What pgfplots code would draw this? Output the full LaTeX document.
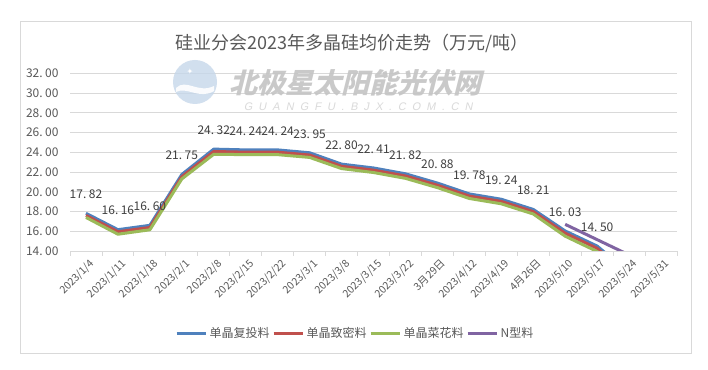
\documentclass[border=0pt]{standalone}
\usepackage{pgfplots}
\pgfplotsset{compat=1.18}
\usepackage{pgfplotstable}
\usepackage{fontspec}
\setmainfont{Noto Sans CJK SC}
\newfontfamily\wmfont[LetterSpace=55]{Liberation Sans}
\newfontfamily\symfont{DejaVu Sans}
\definecolor{cblue}{HTML}{4F81BD}
\definecolor{cred}{HTML}{C0504D}
\definecolor{cgreen}{HTML}{9BBB59}
\definecolor{cpurple}{HTML}{8064A2}
\definecolor{gridgray}{HTML}{D9D9D9}
\definecolor{txtgray}{HTML}{595959}
\definecolor{lblgray}{HTML}{404040}
\definecolor{wmgray}{HTML}{C4C4C4}
\definecolor{wmgray2}{HTML}{DADADA}
\definecolor{logoblue}{HTML}{C6D7EA}

\pgfplotstableread{
x B R G
0 17.82 17.60 17.40
1 16.16 15.95 15.70
2 16.60 16.38 16.15
3 21.75 21.52 21.30
4 24.32 24.08 23.80
5 24.24 24.01 23.76
6 24.24 24.01 23.76
7 23.95 23.72 23.48
8 22.80 22.58 22.35
9 22.41 22.19 21.95
10 21.82 21.60 21.36
11 20.88 20.66 20.42
12 19.78 19.56 19.32
13 19.24 19.02 18.78
14 18.21 17.99 17.75
15 16.03 15.80 15.50
16 14.50 14.27 13.95
17 11.80 11.55 11.30
}\datatab

\pgfplotstableread{
x N
15 16.70
16 15.15
17 13.60
}\ntab

\begin{document}
\begin{tikzpicture}
\path[use as bounding box, fill=white] (0bp,0bp) rectangle (708bp,370bp);
\draw[gridgray, line width=0.8bp] (20.7bp,17bp) rectangle (691bp,348.7bp);
\node[font=\fontsize{18bp}{20bp}\selectfont, text=txtgray] at (352bp,327bp) {硅业分会2023年多晶硅均价走势（万元/吨）};

\begin{axis}[
  at={(70bp,119bp)}, anchor=south west,
  width=607bp, height=177.7bp, scale only axis,
  xmin=-0.5, xmax=18.5, ymin=14, ymax=32,
  axis line style={draw=none},
  xtick={0,...,18},
  xticklabels={2023/1/4,2023/1/11,2023/1/18,2023/2/1,2023/2/8,2023/2/15,2023/2/22,2023/3/1,2023/3/8,2023/3/15,2023/3/22,3月29日,2023/4/12,2023/4/19,4月26日,2023/5/10,2023/5/17,2023/5/24,2023/5/31},
  major x tick style={draw=none},
  minor xtick={-0.5,0.5,...,18.5},
  minor x tick style={gridgray, line width=0.8bp},
  minor tick length=5bp,
  tick align=outside,
  xtick pos=bottom, ytick pos=left,
  ytick={14,16,...,32},
  ytick style={draw=none},
  ymajorgrids,
  grid style={gridgray, line width=0.8bp},
  xticklabel style={rotate=45, anchor=north east, font=\fontsize{10.5bp}{12bp}\selectfont, text=txtgray, inner sep=1bp, yshift=-3bp, xshift=1bp},
  yticklabel style={font=\fontsize{12bp}{14bp}\selectfont, text=txtgray, inner sep=0pt, xshift=-7bp},
  yticklabel={\pgfmathprintnumber[fixed,fixed zerofill,precision=2,assume math mode=true,dec sep={.\hspace{2.5bp}}]{\tick}},
  legend style={at={(0.4695,-0.4615)}, anchor=center, draw=none, fill=none,
    font=\fontsize{12bp}{14bp}\selectfont, text=txtgray,
    /tikz/every even column/.append style={column sep=1bp},
    /tikz/every odd column/.append style={column sep=1bp},
    nodes={inner sep=1.5bp}},
  legend columns=4,
  legend image code/.code={\draw[#1, line width=3bp] (0bp,0bp) -- (29bp,0bp);},
]
\addplot[cblue, line width=3bp, mark=none, line join=round] table[x=x,y=B]{\datatab};
\addlegendentry{单晶复投料}
\addplot[cred, line width=3bp, mark=none, line join=round] table[x=x,y=R]{\datatab};
\addlegendentry{单晶致密料}
\addplot[cgreen, line width=3bp, mark=none, line join=round] table[x=x,y=G]{\datatab};
\addlegendentry{单晶菜花料}
\addplot[cpurple, line width=3bp, mark=none, line join=round] table[x=x,y=N]{\ntab};
\addlegendentry{N型料}
\addplot[draw=none, mark=none, forget plot, restrict x to domain=0:16,
  point meta=y,
  nodes near coords={\pgfmathprintnumber[fixed,fixed zerofill,precision=2,assume math mode=true,dec sep={.\hspace{2.5bp}}]{\pgfplotspointmeta}},
  every node near coord/.append style={anchor=center, yshift=19bp, inner sep=0pt, font=\fontsize{12bp}{14bp}\selectfont, text=lblgray}]
  table[x=x,y=B]{\datatab};
\end{axis}

\fill[logoblue, opacity=0.8] (195bp,288bp) circle (22bp);
\fill[white, opacity=0.9] (176bp,282bp) .. controls (186bp,292bp) and (198bp,276bp) .. (214bp,284bp) -- (214bp,279bp) .. controls (200bp,270bp) and (186bp,284bp) .. (176bp,278bp) -- cycle;
\node[white, font=\fontsize{8bp}{8bp}\symfont] at (190bp,298bp) {✦};
\node[font=\fontsize{28bp}{30bp}\selectfont\bfseries, text=wmgray, xslant=0.25, opacity=0.9] at (358bp,287bp) {北极星太阳能光伏网};
\node[font=\fontsize{11bp}{12bp}\wmfont, text=wmgray2, xslant=0.2] at (359bp,263.3bp) {GUANGFU.BJX.COM.CN};
\end{tikzpicture}
\end{document}
